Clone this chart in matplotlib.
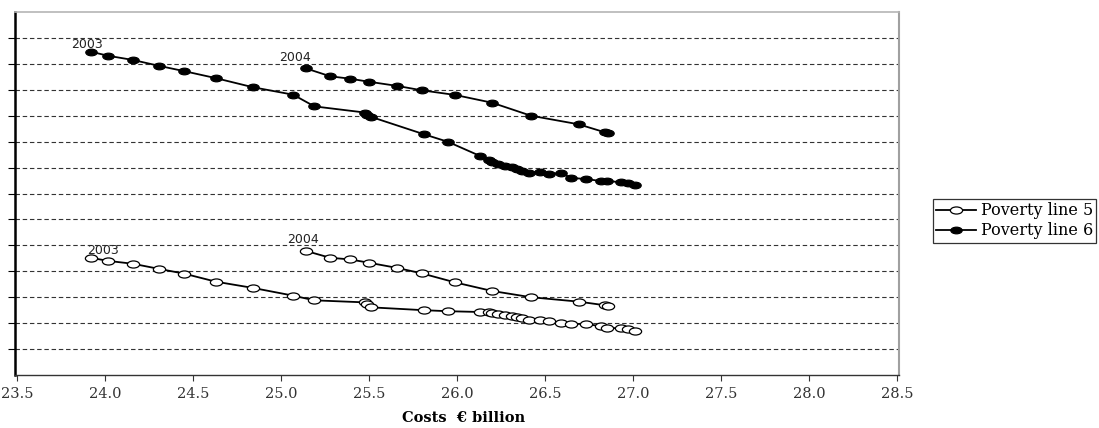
import numpy as np
import matplotlib
matplotlib.use("Agg")
import matplotlib.pyplot as plt
from matplotlib.path import Path
from matplotlib.transforms import Affine2D

# policy scenarios: cost of each option (EUR billion)
cost_2003 = [23.92, 24.02, 24.16, 24.31, 24.45, 24.63, 24.84, 25.07, 25.19,
             25.48, 25.49, 25.51, 25.81, 25.95, 26.13, 26.18, 26.20, 26.23,
             26.27, 26.31, 26.34, 26.37, 26.41, 26.47, 26.52, 26.59, 26.65,
             26.73, 26.82, 26.85, 26.93, 26.97, 27.01]
cost_2004 = [25.14, 25.28, 25.39, 25.50, 25.66, 25.80, 25.99, 26.20, 26.42,
             26.69, 26.84, 26.86]

# poverty measure for each scenario
pl6_2003 = [12.47, 12.31, 12.15, 11.92, 11.72, 11.45, 11.10, 10.81, 10.36,
            10.12, 10.04, 9.96, 9.29, 8.99, 8.45, 8.29, 8.21, 8.14, 8.06,
            8.02, 7.94, 7.87, 7.79, 7.83, 7.75, 7.79, 7.60, 7.56, 7.48, 7.48,
            7.44, 7.40, 7.33]
pl6_2004 = [11.83, 11.52, 11.43, 11.31, 11.15, 10.98, 10.80, 10.50, 10.00,
            9.67, 9.36, 9.33]
pl5_2003 = [4.52, 4.40, 4.29, 4.09, 3.91, 3.60, 3.36, 3.06, 2.88, 2.80, 2.74,
            2.61, 2.50, 2.46, 2.43, 2.42, 2.38, 2.34, 2.31, 2.28, 2.23, 2.20,
            2.12, 2.12, 2.09, 2.01, 1.97, 1.97, 1.88, 1.82, 1.80, 1.77, 1.70]
pl5_2004 = [4.79, 4.52, 4.46, 4.33, 4.13, 3.92, 3.57, 3.24, 3.00, 2.83, 2.69,
            2.66]

x_ticks = np.arange(23.5, 28.51, 0.5)
y_grid = np.arange(1, 14)

# squashed circle marker
ell = Path.unit_circle().transformed(Affine2D().scale(1.0, 0.58))

fig = plt.figure(figsize=(10.99, 4.28), dpi=100)
ax = fig.add_axes([15 / 1099, 1 - 375 / 428, 884 / 1099, 363 / 428])

line_kw = dict(color='black', lw=1.3, marker=ell,
               markeredgecolor='black', markeredgewidth=0.9)

ax.plot(cost_2003, pl5_2003, markerfacecolor='white', markersize=8.8,
        label='Poverty line 5', **line_kw)
ax.plot(cost_2004, pl5_2004, markerfacecolor='white', markersize=8.8, **line_kw)
ax.plot(cost_2003, pl6_2003, markerfacecolor='black', markersize=8.2,
        label='Poverty line 6', **line_kw)
ax.plot(cost_2004, pl6_2004, markerfacecolor='black', markersize=8.2, **line_kw)

yr_kw = dict(fontsize=9, family='DejaVu Sans', ha='center', va='center', color='#222222')
ax.text(23.90, 12.73, '2003', **yr_kw)
ax.text(25.08, 12.23, '2004', **yr_kw)
ax.text(23.99, 4.82, '2003', **yr_kw)
ax.text(25.125, 5.24, '2004', **yr_kw)

ax.set_xlim(23.49, 28.51)
ax.set_ylim(0, 14)
ax.set_xticks(x_ticks)
ax.set_xticklabels(['%.1f' % t for t in x_ticks], family='DejaVu Serif', fontsize=10.5)
ax.set_yticks(y_grid)
ax.set_yticklabels([])
ax.tick_params(axis='x', direction='out', length=4, width=0.8, pad=5, colors='#333333')
ax.tick_params(axis='y', direction='out', length=5, width=0.8)
ax.grid(axis='y', color='#333333', lw=0.8, linestyle=(0, (4, 2.5)))
ax.set_axisbelow(True)

ax.spines['left'].set_linewidth(1.8)
ax.spines['left'].set_color('black')
ax.spines['bottom'].set_linewidth(1.0)
ax.spines['bottom'].set_color('#333333')
ax.spines['top'].set_color('#b5b5b5')
ax.spines['top'].set_linewidth(1.2)
ax.spines['right'].set_color('#a0a0a0')
ax.spines['right'].set_linewidth(1.5)

ax.set_xlabel('Costs  \u20ac billion', family='DejaVu Serif', fontsize=10.5,
              fontweight='bold')
ax.xaxis.set_label_coords((464 - 15) / 884, (375 - 411) / 363)

leg = fig.legend(loc='upper left', bbox_to_anchor=(933 / 1099, 1 - 199 / 428),
                 frameon=True, fancybox=False, edgecolor='black', borderaxespad=0,
                 prop={'family': 'DejaVu Serif', 'size': 11.5}, handlelength=2.5,
                 handletextpad=0.3, borderpad=0.2, labelspacing=0.2)
leg.get_frame().set_linewidth(0.9)

fig.savefig('out.png', dpi=100)
